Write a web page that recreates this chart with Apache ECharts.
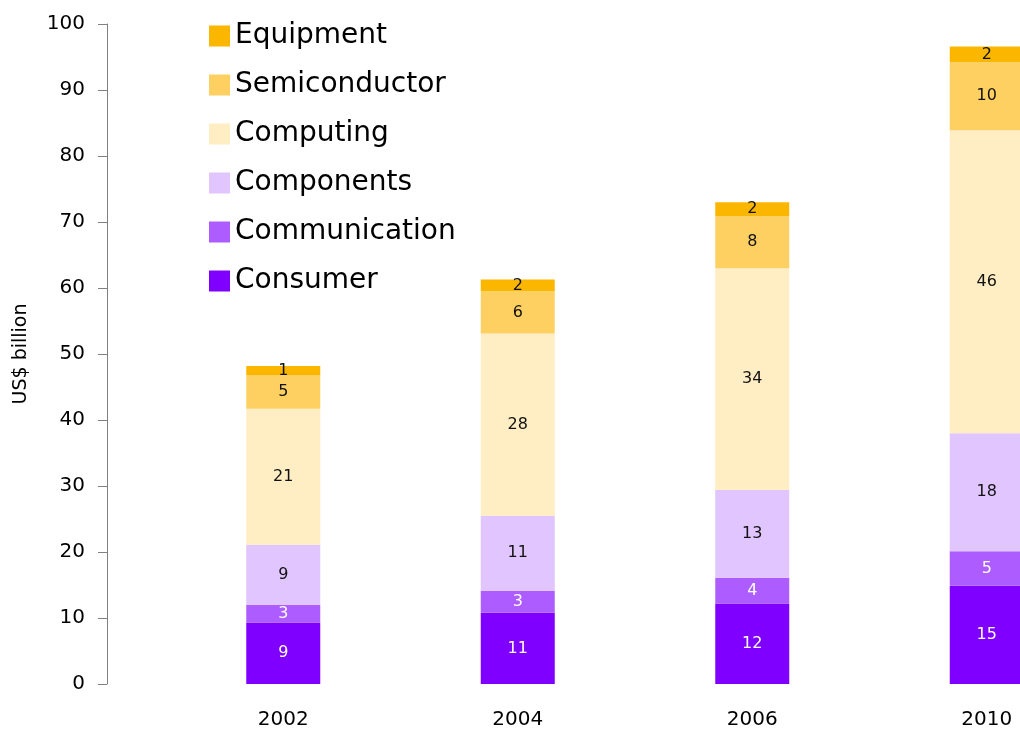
<!DOCTYPE html>
<html>
<head>
<meta charset="utf-8">
<script src="https://cdn.jsdelivr.net/npm/echarts@6/dist/echarts.min.js"></script>
<style>
	html,body{margin:0;padding:0;background:#fff;}
	#chart{width:1020px;height:731px;}
</style>
</head>
<body>
<div id="chart"></div>
<script>
	var years = ['2002', '2004', '2006', '2010'];
	// values (labels show them rounded)
	var consumer = [9.3, 10.8, 12.2, 14.9];
	var communication = [2.7, 3.3, 3.9, 5.2];
	var components = [9.1, 11.4, 13.3, 17.9];
	var computing = [20.6, 27.6, 33.6, 45.9];
	var semiconductor = [5.1, 6.4, 7.9, 10.3];
	var equipment = [1.4, 1.8, 2.1, 2.4];
	var legendOrder = ['Equipment', 'Semiconductor', 'Computing', 'Components', 'Communication', 'Consumer'];

	var font = 'DejaVu Sans';
	function seg(name, data, color, labelColor){
		return {
			name: name,
			type: 'bar',
			stack: 'total',
			barWidth: 74,
			data: data,
			itemStyle: { color: color },
			label: {
				show: true,
				position: 'inside',
				color: labelColor,
				fontFamily: font,
				fontSize: 16,
				formatter: function(p){ return Math.round(p.value); }
			}
		};
	}

	var myChart = echarts.init(document.getElementById('chart'));
	var option = {
		animation: false,
		textStyle: { fontFamily: font },
		legend: {
			orient: 'vertical',
			left: 204,
			top: 17,
			data: legendOrder,
			icon: 'rect',
			itemWidth: 21,
			itemHeight: 21,
			itemGap: 21,
			textStyle: { fontFamily: font, fontSize: 28, color: '#000' }
		},
		grid: {
			left: 166,
			right: -84,
			top: 24,
			bottom: 47,
			outerBoundsMode: 'none'
		},
		xAxis: {
			type: 'category',
			data: years,
			axisLine: { show: false },
			axisTick: { show: false },
			axisLabel: { color: '#000', fontSize: 20, margin: 26 }
		},
		yAxis: {
			type: 'value',
			min: 0,
			max: 100,
			interval: 10,
			offset: 59,
			name: 'US$ billion',
			nameLocation: 'middle',
			nameGap: 76,
			nameTextStyle: { color: '#000', fontSize: 19 },
			axisLine: { show: true, lineStyle: { color: '#808080', width: 1 } },
			axisTick: { show: true, length: 9, lineStyle: { color: '#808080' } },
			axisLabel: { color: '#000', fontSize: 20, margin: 22 },
			splitLine: { show: false }
		},
		series: [
			seg('Consumer', consumer, '#7f00ff', '#fff'),
			seg('Communication', communication, '#ad5cff', '#fff'),
			seg('Components', components, '#e0c5fe', '#111'),
			seg('Computing', computing, '#ffedc3', '#111'),
			seg('Semiconductor', semiconductor, '#fed061', '#111'),
			seg('Equipment', equipment, '#fbb600', '#111')
		]
	};
	myChart.setOption(option);
</script>
</body>
</html>
